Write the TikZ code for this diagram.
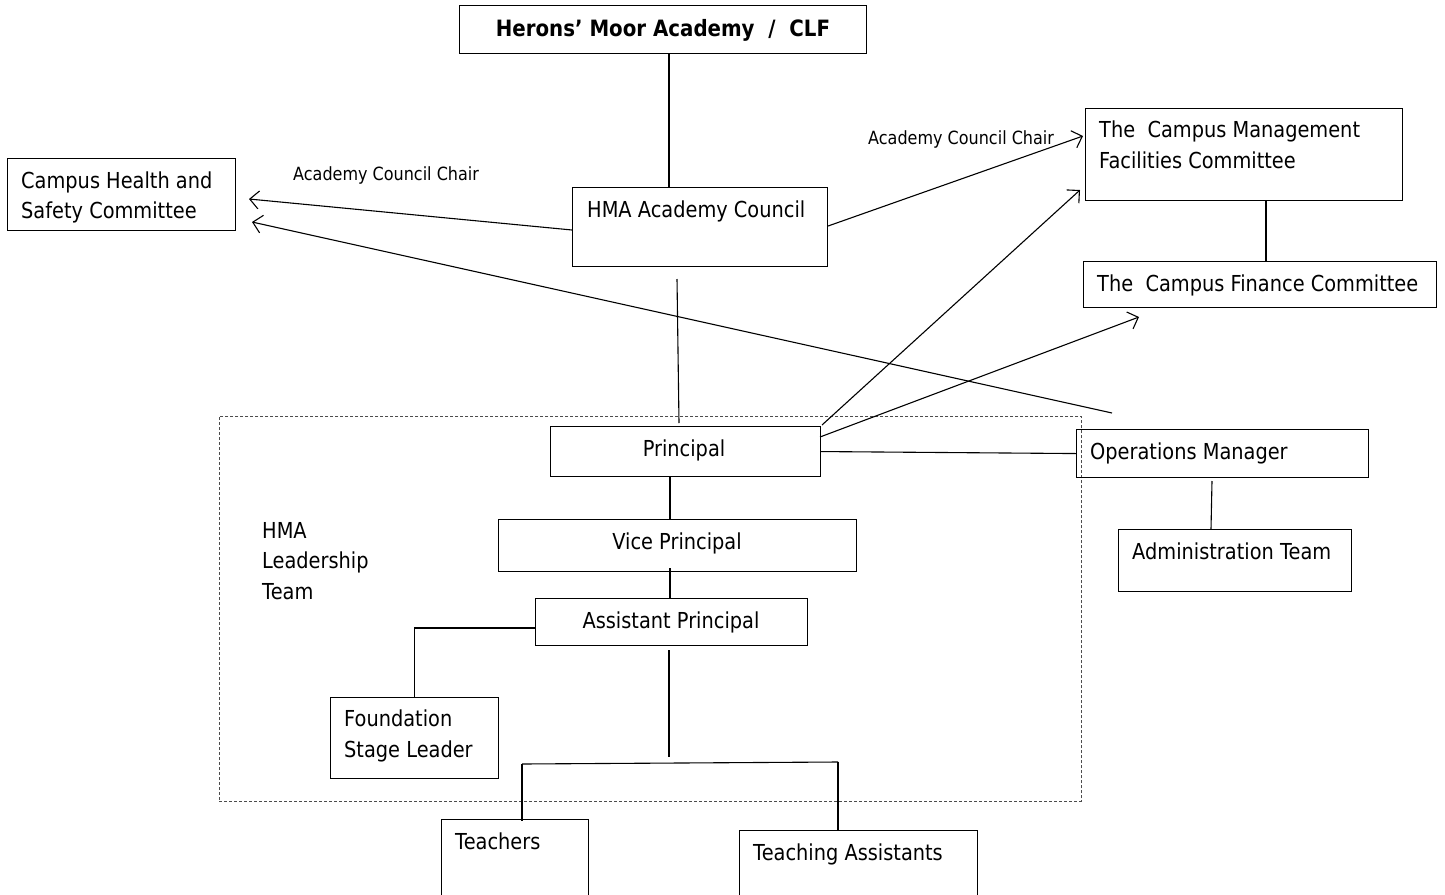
\documentclass[tikz,border=0pt]{standalone}
\usepackage{fontspec}
\setmainfont{DejaVu Sans}[FakeStretch=0.88]
\usetikzlibrary{arrows.meta}
\tikzset{
  box/.style={draw, line width=1.1pt, inner sep=0pt, anchor=north west},
  txt/.style={inner sep=0pt, anchor=base west, font=\fontsize{22}{30.5}\selectfont, align=left},
  ctxt/.style={txt, anchor=base},
  lbl/.style={inner sep=0pt, anchor=base west, font=\fontsize{18.2}{21}\selectfont},
  conn/.style={line width=1.1pt},
  arr/.style={conn, -{Straight Barb[length=9pt,width=18pt,line width=1.1pt]}},
  leader/.style={draw=black!70, line width=0.8pt, densely dashed, inner sep=0pt, anchor=north west}
}
\begin{document}
\begin{tikzpicture}[x=1pt,y=-1pt]
\useasboundingbox (0,0) rectangle (1445,894);
\clip (0,0) rectangle (1445,894);
% dashed leadership frame
\node[leader, minimum width=862pt, minimum height=385pt] (lead) at (219,416) {};
% boxes
\node[box, minimum width=407pt, minimum height=48pt] (title) at (459,5) {};
\node[box, minimum width=228pt, minimum height=72pt] (health) at (7,158) {};
\node[box, minimum width=255pt, minimum height=79pt] (council) at (572,187) {};
\node[box, minimum width=317pt, minimum height=92pt] (mgmt) at (1085,108) {};
\node[box, minimum width=353pt, minimum height=46pt] (fin) at (1083,261) {};
\node[box, minimum width=270pt, minimum height=50pt] (prin) at (550,426) {};
\node[box, minimum width=292pt, minimum height=48pt] (ops) at (1076,429) {};
\node[box, minimum width=233pt, minimum height=62pt] (admin) at (1118,529) {};
\node[box, minimum width=358pt, minimum height=52pt] (vice) at (498,519) {};
\node[box, minimum width=272pt, minimum height=47pt] (asst) at (535,598) {};
\node[box, minimum width=168pt, minimum height=81pt] (found) at (330,697) {};
\node[box, minimum width=147pt, minimum height=90pt] (teach) at (441,819) {};
\node[box, minimum width=238pt, minimum height=80pt] (ta) at (739,830) {};
% texts
\node[txt, anchor=base, font=\fontsize{22.5}{30.5}\selectfont\bfseries] (ttitle) at (663,36) {Herons’ Moor Academy~~/~~CLF};
\node[txt] (thealth) at (21,218.5) {Campus Health and\\Safety Committee};
\node[txt] (tcouncil) at (587,217) {HMA Academy Council};
\node[txt] (tmgmt) at (1099,168) {The~~Campus Management\\Facilities Committee};
\node[txt] (tfin) at (1097,291) {The~~Campus Finance Committee};
\node[ctxt] (tprin) at (684,456) {Principal};
\node[txt] (tops) at (1090,459) {Operations Manager};
\node[txt] (tadmin) at (1132,559) {Administration Team};
\node[ctxt] (tvice) at (677,549) {Vice Principal};
\node[ctxt] (tasst) at (671,628) {Assistant Principal};
\node[txt] (tfound) at (344,757) {Foundation\\Stage Leader};
\node[txt] (tteach) at (455,849) {Teachers};
\node[txt] (tta) at (753,860) {Teaching Assistants};
\node[txt] (tlead) at (262,599) {HMA\\Leadership\\Team};
\node[lbl] (lab1) at (293,180) {Academy Council Chair};
\node[lbl] (lab2) at (868,144) {Academy Council Chair};
% helper coordinates
\coordinate (x669) at (669,0);
\coordinate (x670) at (670,0);
\coordinate (x1266) at (1266,0);
\coordinate (y628) at (0,628);
\coordinate (y230) at (0,230);
\coordinate (y226) at (0,226);
\coordinate (cpA) at (677,279);
\coordinate (cpB) at (679,423);
\coordinate (apA) at (669,650);
\coordinate (apB) at (669,757);
\coordinate (bj1) at (522,764);
\coordinate (bj2) at (838,762);
\coordinate (opA) at (1212,481);
\coordinate (opB) at (1211,529);
\coordinate (tipH1) at (249,199);
\coordinate (tipH2) at (252,222);
\coordinate (opsTail) at (1112,413);
\coordinate (tipM1) at (1083,136);
\coordinate (tipM2) at (1080,190);
\coordinate (tipF) at (1139,317);
\coordinate (prA) at (822,425);
\coordinate (prB) at (820,437);
% connectors
\draw[conn] (title.south -| x669) -- (council.north -| x669);
\draw[conn] (cpA) -- (cpB);
\draw[conn] (prin.south -| x670) -- (vice.north -| x670);
\draw[conn] ([yshift=4pt]vice.south -| x670) -- (asst.north -| x670);
\draw[conn] (asst.west |- y628) -| (found.north);
\draw[conn] (apA) -- (apB);
\draw[conn] (bj1) -- (bj2);
\draw[conn] (bj1) -- ([yshift=-2pt]teach.north -| bj1);
\draw[conn] (bj2) -- (ta.north -| bj2);
\draw[conn] (prin.east) -- (ops.west);
\draw[conn] (opA) -- (opB);
\draw[conn] (mgmt.south -| x1266) -- (fin.north -| x1266);
\draw[arr] (council.west |- y230) -- (tipH1);
\draw[arr] (opsTail) -- (tipH2);
\draw[arr] (council.east |- y226) -- (tipM1);
\draw[arr] (prA) -- (tipM2);
\draw[arr] (prB) -- (tipF);
\end{tikzpicture}
\end{document}
